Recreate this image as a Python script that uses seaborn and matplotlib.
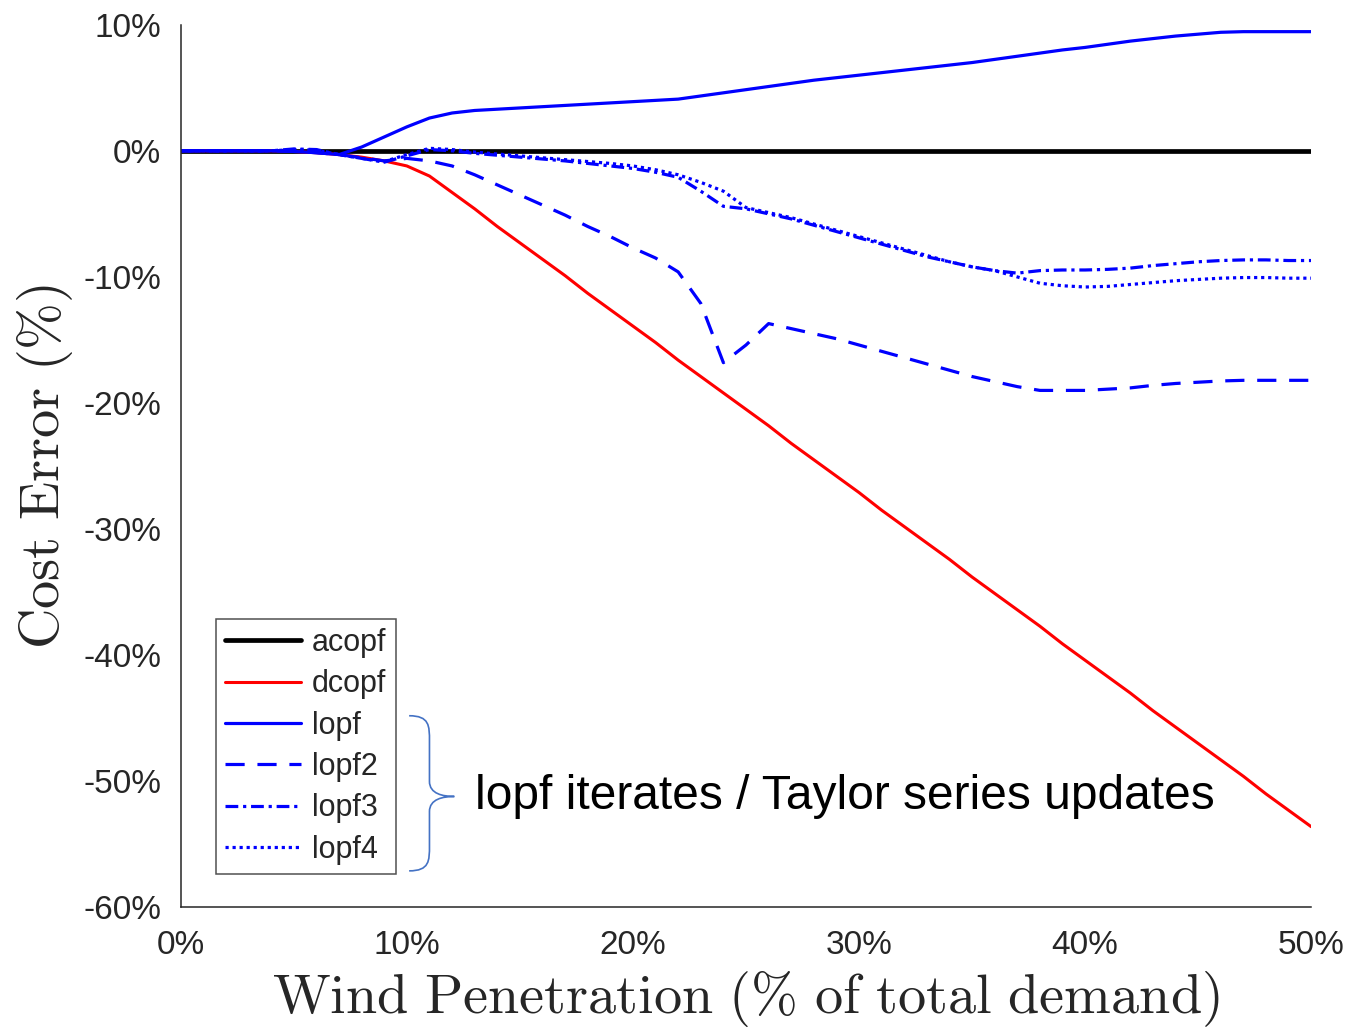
"""
Cost error of linearised OPF variants versus wind penetration.
"""

import numpy as np
import pandas as pd
import matplotlib
matplotlib.use('Agg')
import matplotlib.pyplot as plt
from matplotlib.path import Path
from matplotlib.patches import PathPatch
import seaborn as sns

# wind penetration (% of total demand)
wind_pct = list(range(0, 51))

acopf = [0.0] * 51

dcopf = [0.0, 0.0, 0.0, 0.0, 0.0, -0.05, -0.15, -0.3, -0.5, -0.8,
         -1.2, -2.0, -3.3, -4.6, -6.0, -7.3, -8.6, -9.9, -11.3, -12.6,
         -13.9, -15.2, -16.6, -17.9, -19.2, -20.5, -21.8, -23.2, -24.5, -25.8,
         -27.1, -28.5, -29.8, -31.1, -32.4, -33.8, -35.1, -36.4, -37.7, -39.1,
         -40.4, -41.7, -43.0, -44.4, -45.7, -47.0, -48.3, -49.6, -51.0, -52.3,
         -53.6]

lopf = [0.0, 0.0, 0.0, 0.0, 0.0, -0.05, -0.15, -0.3, 0.3, 1.1,
        1.9, 2.6, 3.0, 3.2, 3.3, 3.4, 3.5, 3.6, 3.7, 3.8,
        3.9, 4.0, 4.1, 4.35, 4.6, 4.85, 5.1, 5.35, 5.6, 5.8,
        6.0, 6.2, 6.4, 6.6, 6.8, 7.0, 7.25, 7.5, 7.75, 8.0,
        8.2, 8.45, 8.7, 8.9, 9.1, 9.25, 9.4, 9.45, 9.45, 9.45,
        9.45]

lopf2 = [0.0, 0.0, 0.0, 0.0, 0.0, -0.05, -0.15, -0.3, -0.55, -0.8,
         -0.6, -0.8, -1.2, -1.9, -2.7, -3.5, -4.3, -5.1, -6.0, -6.8,
         -7.7, -8.5, -9.6, -12.1, -16.8, -15.4, -13.7, -14.1, -14.5, -14.9,
         -15.4, -15.9, -16.4, -16.9, -17.4, -17.9, -18.3, -18.7, -19.0, -19.0,
         -19.0, -18.9, -18.8, -18.6, -18.45, -18.35, -18.25, -18.2, -18.2, -18.2,
         -18.2]

lopf3 = [0.0, 0.0, 0.0, 0.0, 0.0, 0.15, 0.1, -0.3, -0.6, -0.9,
         -0.4, 0.1, 0.0, -0.2, -0.35, -0.5, -0.65, -0.8, -1.0, -1.2,
         -1.4, -1.7, -2.1, -3.2, -4.4, -4.6, -5.0, -5.4, -5.9, -6.4,
         -6.9, -7.4, -7.9, -8.4, -8.8, -9.2, -9.5, -9.7, -9.5, -9.45,
         -9.45, -9.4, -9.3, -9.1, -8.95, -8.8, -8.7, -8.65, -8.65, -8.7,
         -8.7]

lopf4 = [0.0, 0.0, 0.0, 0.0, 0.0, 0.1, 0.05, -0.3, -0.6, -0.85,
         -0.3, 0.2, 0.1, -0.1, -0.25, -0.4, -0.55, -0.7, -0.85, -1.0,
         -1.2, -1.5, -1.9, -2.5, -3.2, -4.5, -4.9, -5.3, -5.8, -6.3,
         -6.8, -7.3, -7.8, -8.3, -8.8, -9.2, -9.5, -10.0, -10.5, -10.7,
         -10.8, -10.75, -10.6, -10.45, -10.3, -10.2, -10.1, -10.05, -10.05, -10.1,
         -10.1]

series_names = ['acopf', 'dcopf', 'lopf', 'lopf2', 'lopf3', 'lopf4']
series_values = [acopf, dcopf, lopf, lopf2, lopf3, lopf4]
series_colors = ['black', '#ff0000', '#0000ff', '#0000ff', '#0000ff', '#0000ff']
series_styles = ['-', '-', '-', (0, (6, 4)), (0, (4, 1.5, 1, 1.5)), (0, (1, 1.2))]
series_widths = [3.4, 2.2, 2.3, 2.3, 2.3, 2.3]

x_ticks = [0, 10, 20, 30, 40, 50]
y_ticks = [-60, -50, -40, -30, -20, -10, 0, 10]

sns.set_theme(style='white')
plt.rcParams['font.family'] = ['Liberation Sans', 'DejaVu Sans']
plt.rcParams['mathtext.fontset'] = 'cm'

fig = plt.figure(figsize=(13.49, 10.30), dpi=100)
ax = fig.add_axes([0.134, 0.119, 0.838, 0.857])

for name, vals, col, ls, lw in zip(series_names, series_values, series_colors,
                                   series_styles, series_widths):
    df = pd.DataFrame({'wind': wind_pct, 'err': vals})
    sns.lineplot(data=df, x='wind', y='err', ax=ax, color=col,
                 linestyle=ls, linewidth=lw, label=name)

ax.set_xlim(0, 50)
ax.set_ylim(-60, 10)
ax.set_xticks(x_ticks)
ax.set_yticks(y_ticks)
ax.set_xticklabels([f'{t}%' for t in x_ticks])
ax.set_yticklabels([f'{t}%' for t in y_ticks])

for side in ['top', 'right']:
    ax.spines[side].set_visible(False)
for side in ['left', 'bottom']:
    ax.spines[side].set_color('#262626')
    ax.spines[side].set_linewidth(1.1)

ax.tick_params(axis='both', direction='in', length=9, width=1.1,
               colors='#262626', labelsize=24, labelcolor='#262626')
ax.tick_params(axis='y', pad=14)
ax.tick_params(axis='x', pad=16)

ax.set_xlabel(r'$\mathrm{Wind\ Penetration\ (\%\ of\ total\ demand)}$',
              fontsize=40.5, color='#262626', labelpad=6)
ax.set_ylabel(r'$\mathrm{Cost\ Error\ (\%)}$',
              fontsize=40.5, color='#262626', labelpad=6)

leg = ax.legend(loc='lower left', bbox_to_anchor=(0.031, 0.038), fontsize=22,
                frameon=True, fancybox=False, handlelength=2.5,
                handletextpad=0.35, labelspacing=0.37, borderpad=0.3,
                borderaxespad=0)
leg.get_frame().set_edgecolor('#262626')
leg.get_frame().set_linewidth(1.1)

# curly brace grouping the lopf iterates
bx0, bx1, bxt = 10.1, 11.0, 12.1
by_top, by_mid, by_bot = -44.8, -51.2, -57.1
verts = [(bx0, by_top), (bx1, by_top), (bx1, by_top - 0.8), (bx1, by_top - 2.0),
         (bx1, by_mid + 1.2),
         (bx1, by_mid + 0.2), (bxt - 0.5, by_mid), (bxt, by_mid),
         (bxt - 0.5, by_mid), (bx1, by_mid - 0.2), (bx1, by_mid - 1.2),
         (bx1, by_bot + 2.0),
         (bx1, by_bot + 0.8), (bx1, by_bot), (bx0, by_bot)]
codes = [Path.MOVETO, Path.CURVE4, Path.CURVE4, Path.CURVE4,
         Path.LINETO,
         Path.CURVE4, Path.CURVE4, Path.CURVE4,
         Path.CURVE4, Path.CURVE4, Path.CURVE4,
         Path.LINETO,
         Path.CURVE4, Path.CURVE4, Path.CURVE4]
ax.add_patch(PathPatch(Path(verts, codes), facecolor='none',
                       edgecolor='#4472c4', linewidth=1.2, clip_on=False))

ax.text(13.0, by_mid, 'lopf iterates / Taylor series updates', fontsize=34.5,
        color='black', va='center', ha='left')

fig.savefig('out.png', dpi=100)
